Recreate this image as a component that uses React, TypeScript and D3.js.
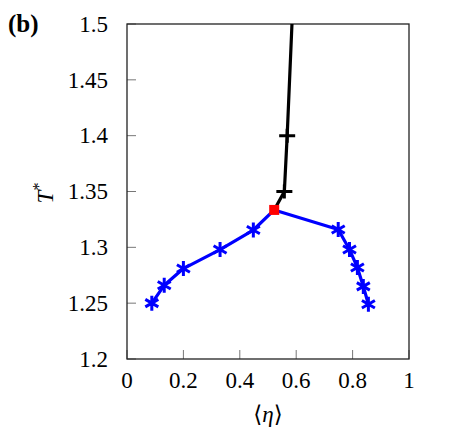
import React from 'react';
import * as d3 from 'd3';

// Left branch (eta < critical), critical point, right branch
const LEFT_ETA = [0.088, 0.132, 0.2, 0.33, 0.448];
const LEFT_T = [1.25, 1.266, 1.281, 1.298, 1.3155];
const RIGHT_ETA = [0.749, 0.789, 0.817, 0.838, 0.856];
const RIGHT_T = [1.316, 1.298, 1.282, 1.265, 1.249];
const CRIT_ETA = 0.522;
const CRIT_T = 1.3335;

// black line above the critical point
const UPPER_ETA = [0.522, 0.558, 0.568, 0.585];
const UPPER_T = [1.3335, 1.35, 1.4, 1.5];
const UPPER_MARKED = [false, true, true, false];

const X_TICKS = [0, 0.2, 0.4, 0.6, 0.8, 1];
const Y_TICKS = [1.2, 1.25, 1.3, 1.35, 1.4, 1.45, 1.5];

const W = 449;
const H = 434;
const PLOT = { left: 127, right: 409, top: 24, bottom: 359 };
const FONT = "'Liberation Serif', 'DejaVu Serif', serif";

const x = d3.scaleLinear().domain([0, 1]).range([PLOT.left, PLOT.right]);
const y = d3.scaleLinear().domain([1.2, 1.5]).range([PLOT.bottom, PLOT.top]);

type Pt = [number, number];

function asterisk(r: number) {
  const parts: string[] = [];
  for (const a of [90, 30, 150]) {
    const rad = (a * Math.PI) / 180;
    const dx = Math.cos(rad) * r;
    const dy = Math.sin(rad) * r;
    parts.push(`M${-dx},${-dy}L${dx},${dy}`);
  }
  return parts.join('');
}

export default function App() {
  const line = d3.line<Pt>().x((d) => x(d[0])).y((d) => y(d[1]));

  const blue: Pt[] = [
    ...LEFT_ETA.map((e, i) => [e, LEFT_T[i]] as Pt),
    [CRIT_ETA, CRIT_T],
    ...RIGHT_ETA.map((e, i) => [e, RIGHT_T[i]] as Pt),
  ];
  const bluePts: Pt[] = [
    ...LEFT_ETA.map((e, i) => [e, LEFT_T[i]] as Pt),
    ...RIGHT_ETA.map((e, i) => [e, RIGHT_T[i]] as Pt),
  ];
  const black: Pt[] = UPPER_ETA.map((e, i) => [e, UPPER_T[i]] as Pt);

  const tickLen = 9;
  const textStyle = { fontFamily: FONT };

  return (
    <svg
      width={W}
      height={H}
      style={{ position: 'absolute', left: 0, top: 0, background: '#fff', fontFamily: FONT }}
    >
      {/* panel label */}
      <text x={8} y={32} fontSize={25} fontWeight="bold" fill="#000" style={textStyle}>
        (b)
      </text>

      {/* ticks */}
      {Y_TICKS.map((t) => (
        <g key={t}>
          <line x1={PLOT.left} x2={PLOT.left + tickLen} y1={y(t)} y2={y(t)} stroke="#777" strokeWidth={1} />
          <text x={PLOT.left - 19} y={y(t)} dy="0.34em" textAnchor="end" fontSize={23} fill="#000" style={textStyle}>
            {t}
          </text>
        </g>
      ))}
      {X_TICKS.map((t) => (
        <g key={t}>
          <line x1={x(t)} x2={x(t)} y1={PLOT.bottom} y2={PLOT.bottom - tickLen} stroke="#777" strokeWidth={1} />
          <text x={x(t)} y={388} textAnchor="middle" fontSize={23} fill="#000" style={textStyle}>
            {t}
          </text>
        </g>
      ))}

      {/* frame */}
      <rect
        x={PLOT.left}
        y={PLOT.top}
        width={PLOT.right - PLOT.left}
        height={PLOT.bottom - PLOT.top}
        fill="none"
        stroke="#222"
        strokeWidth={1.3}
      />

      {/* axis titles */}
      <text x={x(0.5)} y={422} textAnchor="middle" fontSize={23} fill="#000" style={textStyle}>
        ⟨<tspan fontStyle="italic">η</tspan>⟩
      </text>
      <text transform="translate(53,193) rotate(-90)" textAnchor="middle" fontSize={23} fill="#000" style={textStyle}>
        <tspan fontStyle="italic">T</tspan>
        <tspan dy={-9} fontSize={16}>*</tspan>
      </text>

      {/* black upper line */}
      <path d={line(black) ?? ''} fill="none" stroke="#000" strokeWidth={3.2} />
      {black.map((d, i) =>
        UPPER_MARKED[i] ? (
          <path
            key={i}
            transform={`translate(${x(d[0])},${y(d[1])})`}
            d="M-8,0L8,0M0,-7L0,7"
            stroke="#000"
            strokeWidth={3}
          />
        ) : null
      )}

      {/* blue coexistence curve */}
      <path d={line(blue) ?? ''} fill="none" stroke="#0000ff" strokeWidth={3.2} strokeLinejoin="round" />
      {bluePts.map((d, i) => (
        <path
          key={i}
          transform={`translate(${x(d[0])},${y(d[1])})`}
          d={asterisk(7.5)}
          stroke="#0000ff"
          strokeWidth={3}
          fill="none"
        />
      ))}

      {/* critical point */}
      <rect x={x(CRIT_ETA) - 5} y={y(CRIT_T) - 5} width={10} height={10} fill="#ff0000" />
    </svg>
  );
}
